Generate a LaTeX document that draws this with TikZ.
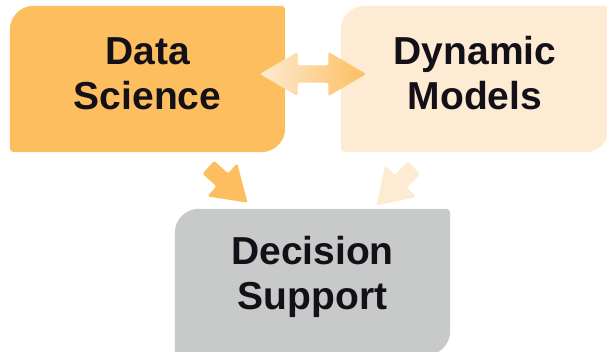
\documentclass[tikz,border=0pt]{standalone}
\usepackage{fontspec}
\setmainfont{Liberation Sans}
\usetikzlibrary{
  shapes.arrows,
  calc,
  positioning,
  backgrounds}
\definecolor{dsorange}{RGB}{253,190,95}
\definecolor{dmpeach}{RGB}{253,235,211}
\definecolor{supgray}{RGB}{200,201,201}
\definecolor{ink}{RGB}{20,16,24}

% fill behind a tile: big round corners top left and bottom right
\newcommand{\tilefill}[2]{%
  \fill[#2] let \p1=(#1.south west), \p2=(#1.north east) in
    (\x1,\y1-1.5pt) -- (\x1,\y2-29.5pt)
    arc[start angle=180, end angle=90, radius=24pt] -- (\x2-4pt,\y2-5.5pt)
    arc[start angle=90, end angle=0, radius=4pt] -- (\x2,\y1+18.5pt)
    arc[start angle=0, end angle=-90, radius=24pt] -- (\x1+4pt,\y1-5.5pt)
    arc[start angle=270, end angle=180, radius=4pt] -- cycle;
}

\begin{document}
\begin{tikzpicture}[x=1pt, y=1pt,
      tile/.style={
        align=center,
        inner sep=0pt,
        text=ink,
        font=\fontsize{39}{45}\selectfont\bfseries
      },
      ds/.style={
        minimum width=275pt,
        minimum height=146pt
      },
      dm/.style={
        minimum width=268pt,
        minimum height=146pt
      },
      flow/.style={
        single arrow,
        inner xsep=0pt,
        inner ysep=8.5pt,
        minimum height=53pt,
        single arrow head extend=13.5pt,
        single arrow tip angle=66,
        rounded corners=2pt
      },
      link/.style={
        double arrow,
        inner xsep=0pt,
        inner ysep=8.5pt,
        minimum height=106pt,
        double arrow head extend=13.5pt,
        double arrow tip angle=61,
        rounded corners=2pt
      },
    ]
    \useasboundingbox (0,0) rectangle (607,351);
    \coordinate (data) at (147.5,277.5);
    \coordinate (models) at (475,277.5);
    \coordinate (support) at (312.5,74.5);
    \node[tile, ds] (data-node) at (data) {Data\\Science};
    \node[tile, dm] (models-node) at (models) {Dynamic\\Models};
    \node[tile, ds] (support-node) at (support) {Decision\\Support};
    \begin{scope}[on background layer]
      \tilefill{data-node}{dsorange}
      \tilefill{models-node}{dmpeach}
      \tilefill{support-node}{supgray}
    \end{scope}
    \node[link, left color=dmpeach, right color=dsorange] (data-models)
      at ($(data-node.east)!0.5!(models-node.west)+(0,-0.5)$) {};
    \node[flow, fill=dsorange, rotate=-42] (data-support) at (223,170.5) {};
    \node[flow, fill=dmpeach, rotate=-135] (models-support) at (400,169) {};
\end{tikzpicture}
\end{document}
